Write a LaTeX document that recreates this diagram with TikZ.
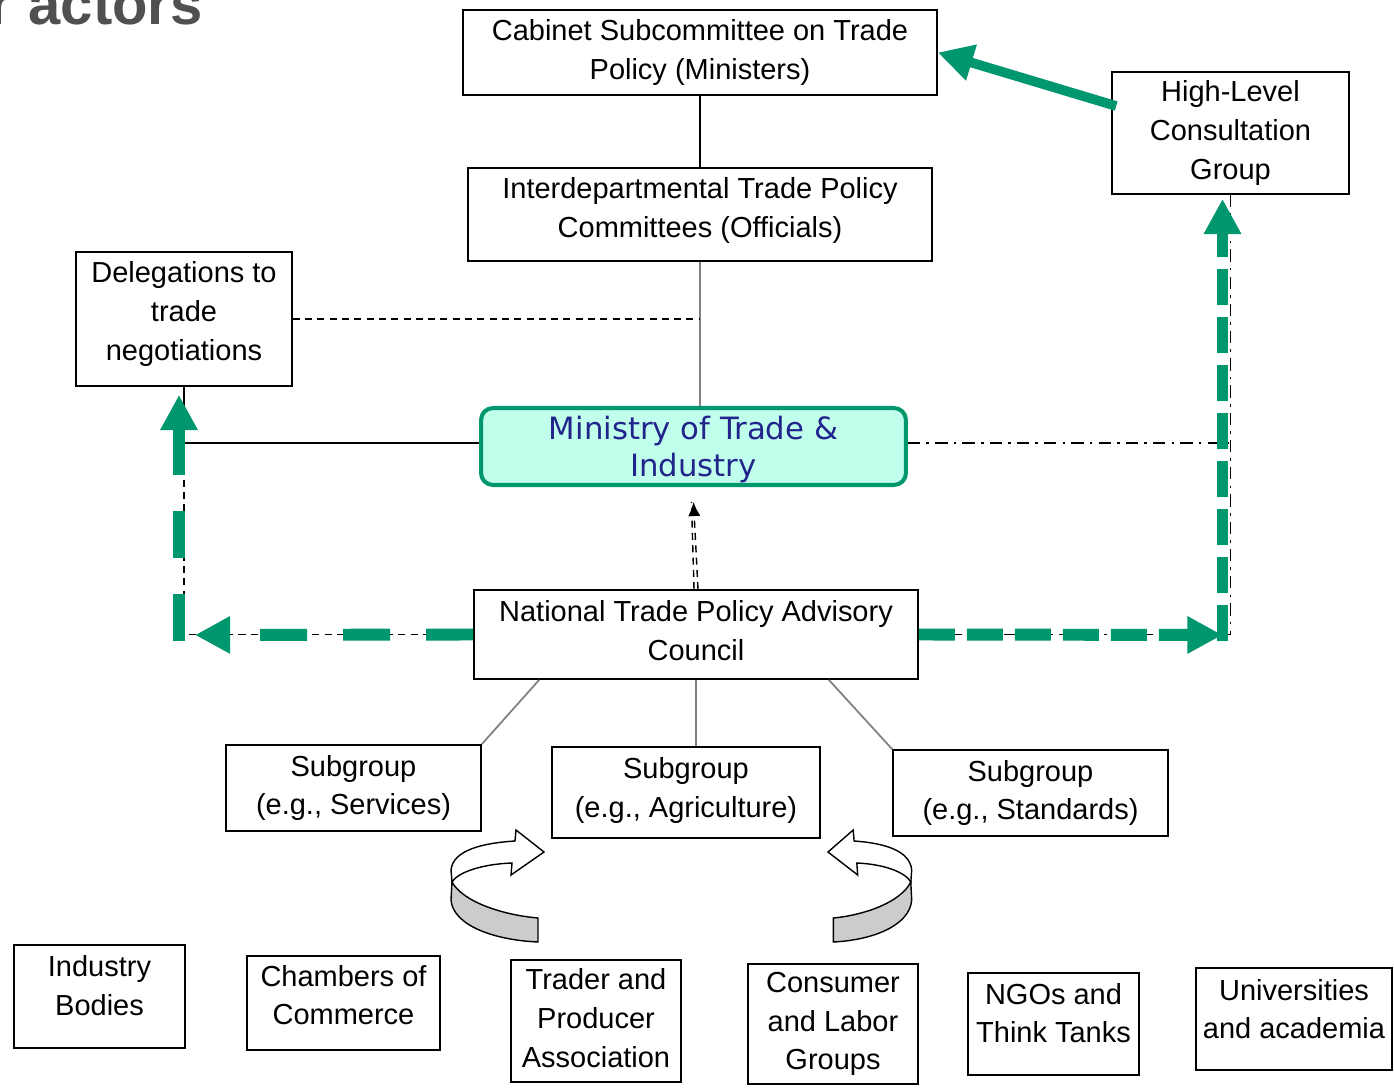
\documentclass[tikz,border=0pt]{standalone}
\usepackage{fontspec}
\setmainfont{Liberation Sans}
\newfontfamily\verdanafont{DejaVu Sans}
\usetikzlibrary{arrows.meta}

\definecolor{mtigreen}{RGB}{0,150,110}
\definecolor{mtifill}{RGB}{192,255,236}
\definecolor{mtiblue}{RGB}{35,35,140}
\definecolor{titlegray}{RGB}{80,80,80}
\definecolor{swirlgray}{RGB}{204,204,204}

\tikzset{
  boxtext/.style={align=center, inner sep=0pt, font=\fontsize{16.5}{22}\selectfont},
  box/.style={draw, fill=white, line width=1pt, boxtext},
  mintext/.style={align=center, inner sep=0pt, text=mtiblue, font=\verdanafont\fontsize{17.5}{21.5}\selectfont},
  ministry/.style={draw=mtigreen, fill=mtifill, line width=2.3pt, rounded corners=0.24cm, mintext},
  link/.style={line width=1pt},
  greylink/.style={line width=1pt, draw=gray},
  dashlink/.style={line width=0.8pt, dash pattern=on 4pt off 3pt},
  dotdash/.style={line width=0.8pt, dash pattern=on 7pt off 3.5pt on 1.5pt off 3.5pt},
  greentip/.style={-{Triangle[length=20pt,width=20pt]}},
  greenleft/.style={draw=mtigreen, line width=6.8pt, dash pattern=on 0.94cm off 0.72cm, greentip},
  greenright/.style={draw=mtigreen, line width=6.8pt, dash pattern=on 0.72cm off 0.24cm, greentip},
  greensolid/.style={draw=mtigreen, line width=5.5pt, greentip},
  swirl/.pic={
    \filldraw[fill=swirlgray, line width=0.8pt] (-92,30) .. controls (-81,50) and (-41,63) .. (-6,66)
      -- (-6,90) .. controls (-51,88) and (-91,73) .. (-93,48) -- cycle;
    \filldraw[fill=white, line width=0.8pt] (-93,18) .. controls (-91,-2) and (-61,-9) .. (-29,-11)
      -- (-28,-22) -- (0,0) -- (-33,23) -- (-32,11) .. controls (-61,12) and (-86,20) .. (-92,30) -- cycle;
  }
}

\begin{document}
\begin{tikzpicture}[x=0.02cm, y=-0.02cm]
\useasboundingbox (0,0) rectangle (1394,1088);

\node[anchor=base east, inner sep=0pt, text=titlegray, font=\bfseries\fontsize{33}{33}\selectfont] (ttl) at (203,25) {r actors};

\node[box, minimum width=9.48cm, minimum height=1.70cm] (cab) at (700,52.5) {Cabinet Subcommittee on Trade\\Policy (Ministers)};
\node[box, minimum width=9.28cm, minimum height=1.86cm,
  label={[boxtext, yshift=0.08cm]center:{Interdepartmental Trade Policy\\Committees (Officials)}}] (idc) at (700,214.5) {};
\node[box, minimum width=4.74cm, minimum height=2.44cm] (hlc) at (1230.5,133) {High-Level\\Consultation\\Group};
\node[box, minimum width=4.32cm, minimum height=2.68cm,
  label={[boxtext, yshift=0.1cm]center:{Delegations to\\trade\\negotiations}}] (del) at (184,319) {};
\node[ministry, minimum width=8.5cm, minimum height=1.54cm,
  label={[mintext, yshift=-0.06cm]center:{Ministry of Trade \&\\Industry}}] (min) at (693.5,446.5) {};
\node[box, minimum width=8.88cm, minimum height=1.78cm,
  label={[boxtext, yshift=0.08cm]center:{National Trade Policy Advisory\\Council}}] (nat) at (696,634.5) {};
\node[box, minimum width=5.1cm, minimum height=1.72cm] (sgs) at (353.5,788) {Subgroup\\(e.g., Services)};
\node[box, minimum width=5.36cm, minimum height=1.82cm,
  label={[boxtext, yshift=0.04cm]center:{Subgroup\\(e.g., Agriculture)}}] (sga) at (686,792.5) {};
\node[box, minimum width=5.5cm, minimum height=1.72cm] (sgd) at (1030.5,793) {Subgroup\\(e.g., Standards)};
\node[box, minimum width=3.42cm, minimum height=2.06cm,
  label={[boxtext, yshift=0.22cm]center:{Industry\\Bodies}}] (ind) at (99.5,996.5) {};
\node[box, minimum width=3.86cm, minimum height=1.88cm,
  label={[boxtext, yshift=0.16cm]center:{Chambers of\\Commerce}}] (cha) at (343.5,1003) {};
\node[box, minimum width=3.4cm, minimum height=2.44cm,
  label={[boxtext, yshift=0.06cm]center:{Trader and\\Producer\\Association}}] (tra) at (596,1021) {};
\node[box, minimum width=3.4cm, minimum height=2.4cm] (con) at (833,1024) {Consumer\\and Labor\\Groups};
\node[box, minimum width=3.42cm, minimum height=2.04cm,
  label={[boxtext, yshift=0.22cm]center:{NGOs and\\Think Tanks}}] (ngo) at (1053.5,1024) {};
\node[box, minimum width=3.92cm, minimum height=2.04cm,
  label={[boxtext, yshift=0.2cm]center:{Universities\\and academia}}] (uni) at (1294,1019) {};

\coordinate (lc) at (del.south |- nat.west);
\coordinate (gl) at (179,635);
\coordinate (gr) at (1222.5,635);

\draw[link] (cab.south) -- (idc.north);
\draw[greylink] (idc.south) -- (idc.south |- min.north);
\draw[dashlink] (del.east) -- (del.east -| idc.south);
\draw[link] (del.south) |- ([yshift=0.07cm]min.west);
\draw[dashlink] ([yshift=0.07cm]del.south |- min.west) -- (lc) -- (nat.west);
\draw[dotdash] ([yshift=0.07cm]min.east) -- ([yshift=0.07cm]min.east -| hlc.south);
\draw[dotdash] (hlc.south) |- (nat.east);
\draw[dashlink] ([xshift=-0.04cm]nat.north) -- ([xshift=-0.04cm,yshift=-0.3cm]min.south);
\draw[dashlink, -{Latex[length=8pt,width=7pt]}] ([xshift=0.04cm]nat.north) -- ([yshift=-0.3cm]min.south);

\draw[greylink] ([xshift=1.32cm]nat.south west) -- (sgs.north east);
\draw[greylink] (nat.south) -- (nat.south |- sga.north);
\draw[greylink] ([xshift=-1.8cm]nat.south east) -- (sgd.north west);

\draw[greenleft] (nat.west) -- ([xshift=0.32cm]gl);
\draw[greenleft] ([yshift=-0.12cm]gl) -- ([yshift=-0.16cm]gl |- del.south);
\draw[greenright] (nat.east) -- (gr);
\draw[greenright] ([yshift=-0.12cm]gr) -- ([yshift=-0.08cm]gr |- hlc.south);
\draw[greensolid] ([xshift=0.1cm,yshift=0.54cm]hlc.west) -- (cab.east);

\pic at (544,852) {swirl};
\pic[xscale=-0.9] at (828,852) {swirl};
\end{tikzpicture}
\end{document}
